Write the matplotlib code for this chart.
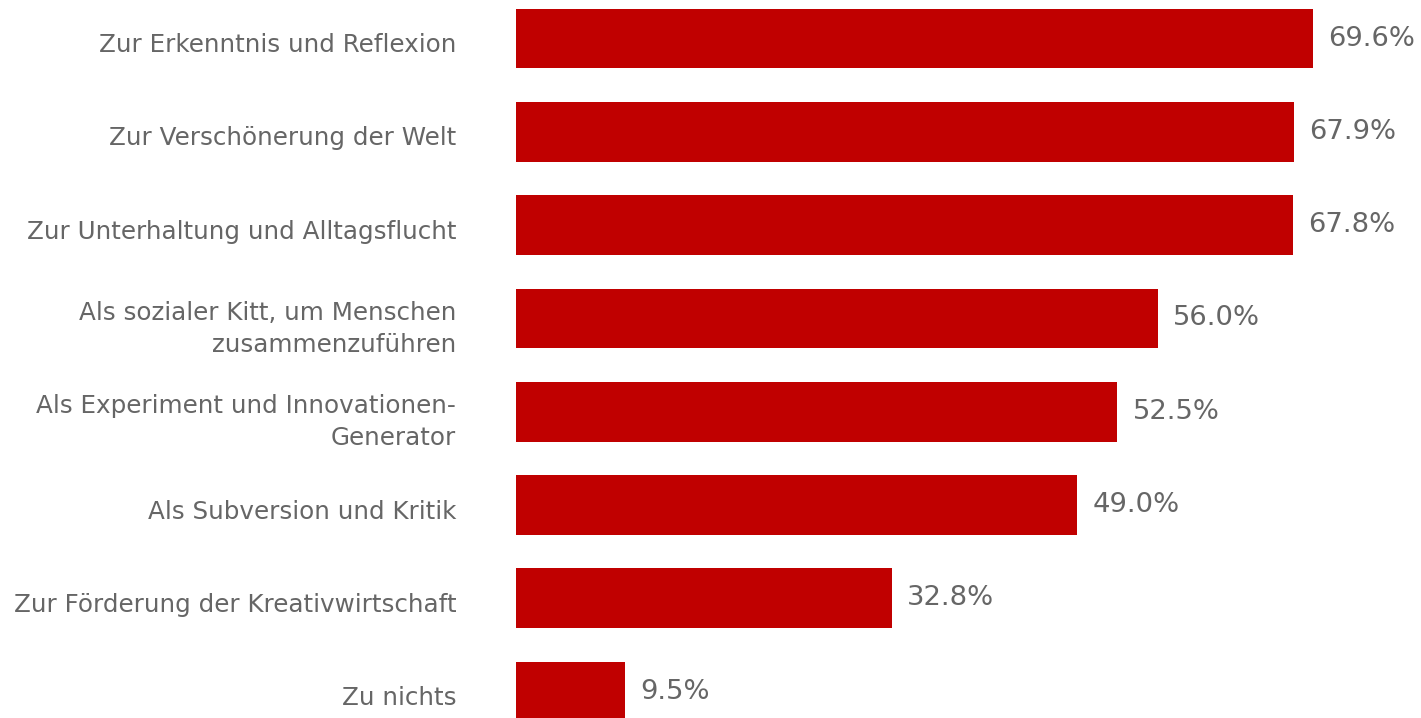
import matplotlib
matplotlib.use("Agg")
import matplotlib.pyplot as plt
import matplotlib.transforms as mtransforms

# Daten
kategorien = [
    "Zur Erkenntnis und Reflexion",
    "Zur Verschönerung der Welt",
    "Zur Unterhaltung und Alltagsflucht",
    "Als sozialer Kitt, um Menschen\nzusammenzuführen",
    "Als Experiment und Innovationen-\nGenerator",
    "Als Subversion und Kritik",
    "Zur Förderung der Kreativwirtschaft",
    "Zu nichts",
]
werte = [69.6, 67.9, 67.8, 56.0, 52.5, 49.0, 32.8, 9.5]

rot = "#C00000"
grau = "#666666"

plt.rcParams['font.family'] = ['DejaVu Sans']

fig = plt.figure(figsize=(14.21, 7.18), dpi=100)
ax = fig.add_axes([516/1421, 0, 1 - 516/1421, 1])

pos = list(range(len(kategorien)))
ax.barh(pos, werte, height=0.64, color=rot)

for p, w in zip(pos, werte):
    ax.annotate(f"{w:.1f}%", (w, p), xytext=(11, 0), textcoords="offset points",
                va="center", ha="left", fontsize=19.7, color=grau)

ax.set_xlim(0, 79.0)
ax.set_ylim(7.283, -0.413)
ax.set_yticks(pos)
ax.set_yticklabels(kategorien, fontsize=17.7, color=grau, ha="right", linespacing=1.4)
ax.tick_params(axis="y", length=0, pad=43)
ax.set_xticks([])
for s in ax.spines.values():
    s.set_visible(False)

# Beschriftungen leicht nach unten verschieben, wie im Original
verschiebung = mtransforms.ScaledTranslation(0, -4/100, fig.dpi_scale_trans)
for lbl in ax.get_yticklabels():
    lbl.set_transform(lbl.get_transform() + verschiebung)

fig.savefig("out.png", dpi=100)
